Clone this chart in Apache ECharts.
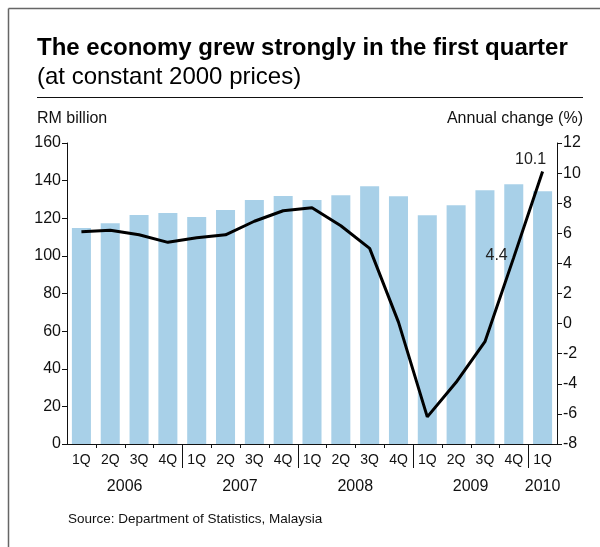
<!DOCTYPE html>
<html>
<head>
<meta charset="utf-8">
<script src="https://cdn.jsdelivr.net/npm/echarts@6/dist/echarts.min.js"></script>
<style>
html,body{margin:0;padding:0;background:#fff;}
#chart{width:600px;height:547px;}
</style>
</head>
<body>
<div id="chart"></div>
<script>
// ---- data ----
var quarters = ['1Q','2Q','3Q','4Q','1Q','2Q','3Q','4Q','1Q','2Q','3Q','4Q','1Q','2Q','3Q','4Q','1Q'];
var years = ['2006','2007','2008','2009','2010'];
var quartersPerYear = [4, 4, 4, 4, 1];
var gdpLevel = [114.8, 117.4, 121.7, 122.8, 120.6, 124.4, 129.7, 131.8, 129.7, 132.2, 137.0, 131.7, 121.6, 126.9, 134.9, 138.1, 134.4];
var annualChange = [6.1, 6.2, 5.9, 5.4, 5.7, 5.9, 6.8, 7.5, 7.7, 6.5, 5.0, 0.1, -6.2, -3.9, -1.2, 4.4, 10.1];
var labelledPoints = [15, 16];
var leftTicks = {min: 0, max: 160, interval: 20};
var rightTicks = {min: -8, max: 12, interval: 2};

// derived
var yearStarts = [], yearMids = [], acc = 0;
quartersPerYear.forEach(function (n) { yearStarts.push(acc); yearMids.push(acc + n / 2); acc += n; });
var boundaryIdx = yearStarts.slice(1);
var innerBoundaries = [];
for (var b = 1; b < quarters.length; b++) innerBoundaries.push([b, boundaryIdx.indexOf(b) !== -1 ? 1 : 0]);

var FONT = '"Liberation Sans", Arial, sans-serif';
var chart = echarts.init(document.getElementById('chart'), null, {renderer: 'canvas'});

var lineData = annualChange.map(function (v, i) {
  if (labelledPoints.indexOf(i) === -1) return v;
  var isLast = i === annualChange.length - 1;
  return {
    value: v,
    label: {
      show: true,
      position: isLast ? 'top' : 'left',
      distance: isLast ? 4 : 6,
      offset: isLast ? [-12, 0] : [0, -2],
      formatter: function (p) { return p.value.toFixed(1); },
      fontFamily: FONT, fontSize: 16, color: '#222'
    }
  };
});

var option = {
  animation: false,
  backgroundColor: '#fff',
  textStyle: {fontFamily: FONT},
  title: [
    {text: 'The economy grew strongly in the first quarter', left: 32, top: 31,
     textStyle: {fontFamily: FONT, fontSize: 24, fontWeight: 'bold', color: '#000'}},
    {text: '(at constant 2000 prices)', left: 32, top: 60,
     textStyle: {fontFamily: FONT, fontSize: 24, fontWeight: 'normal', color: '#000'}},
    {text: 'RM billion', left: 32, top: 106,
     textStyle: {fontFamily: FONT, fontSize: 16, fontWeight: 'normal', color: '#111'}},
    {text: 'Annual change (%)', right: 12, top: 106,
     textStyle: {fontFamily: FONT, fontSize: 16, fontWeight: 'normal', color: '#111'}},
    {text: 'Source: Department of Statistics, Malaysia', left: 63, top: 507,
     textStyle: {fontFamily: FONT, fontSize: 13.5, fontWeight: 'normal', color: '#111'}}
  ],
  graphic: [
    {type: 'line', shape: {x1: 8.5, y1: 8.5, x2: 8.5, y2: 547}, style: {stroke: '#666', lineWidth: 1.5}},
    {type: 'line', shape: {x1: 8.5, y1: 8.5, x2: 600, y2: 8.5}, style: {stroke: '#666', lineWidth: 1.5}},
    {type: 'line', shape: {x1: 37, y1: 97.5, x2: 583, y2: 97.5}, style: {stroke: '#111', lineWidth: 1}}
  ],
  grid: {left: 67, right: 43, top: 143, bottom: 103, containLabel: false},
  xAxis: [
    {
      type: 'category', data: quarters, position: 'bottom', boundaryGap: true,
      axisLine: {show: true, onZero: false, lineStyle: {color: '#111', width: 1}},
      axisTick: {show: false},
      axisLabel: {interval: 0, margin: 9, fontFamily: FONT, fontSize: 14, color: '#111'}
    },
    {
      type: 'value', min: 0, max: quarters.length, interval: 0.5, position: 'bottom',
      axisLine: {show: false, onZero: false}, axisTick: {show: false}, splitLine: {show: false},
      axisLabel: {
        margin: 35, fontFamily: FONT, fontSize: 16, color: '#111', showMinLabel: true, showMaxLabel: true,
        formatter: function (v) {
          for (var k = 0; k < yearMids.length; k++) { if (Math.abs(yearMids[k] - v) < 1e-6) return years[k]; }
          return '';
        }
      }
    }
  ],
  yAxis: [
    {
      type: 'value', min: leftTicks.min, max: leftTicks.max, interval: leftTicks.interval, position: 'left',
      axisLine: {show: true, onZero: false, lineStyle: {color: '#111'}},
      axisTick: {show: true, length: 5, lineStyle: {color: '#111'}},
      splitLine: {show: false},
      axisLabel: {margin: 6, fontFamily: FONT, fontSize: 16, color: '#111'}
    },
    {
      type: 'value', min: rightTicks.min, max: rightTicks.max, interval: rightTicks.interval, position: 'right',
      axisLine: {show: true, onZero: false, lineStyle: {color: '#111'}},
      axisTick: {show: true, length: 5, lineStyle: {color: '#111'}},
      splitLine: {show: false},
      axisLabel: {margin: 6, fontFamily: FONT, fontSize: 16, color: '#111'}
    }
  ],
  series: [
    {
      type: 'bar', data: gdpLevel, xAxisIndex: 0, yAxisIndex: 0,
      barWidth: '66%', itemStyle: {color: '#a8d0e8'}, z: 1
    },
    {
      type: 'line', data: lineData, xAxisIndex: 0, yAxisIndex: 1,
      showSymbol: true, symbol: 'circle', symbolSize: 0,
      itemStyle: {color: '#000'},
      lineStyle: {color: '#000', width: 3}, z: 3
    },
    {
      // category-boundary ticks (short) and year separators (long)
      type: 'custom', xAxisIndex: 0, yAxisIndex: 0, data: innerBoundaries, silent: true, z: 4,
      encode: {x: 0, y: 1},
      renderItem: function (params, api) {
        var idx = api.value(0);
        var p = api.coord([idx, leftTicks.min]);
        var half = api.size([1, 0])[0] / 2;
        var x = Math.round(p[0] - half) + 0.5;
        var len = api.value(1) ? 24 : 4;
        return {
          type: 'line',
          shape: {x1: x, y1: p[1], x2: x, y2: p[1] + len},
          style: {stroke: '#111', lineWidth: 1}
        };
      }
    }
  ]
};
chart.setOption(option);
</script>
</body>
</html>
